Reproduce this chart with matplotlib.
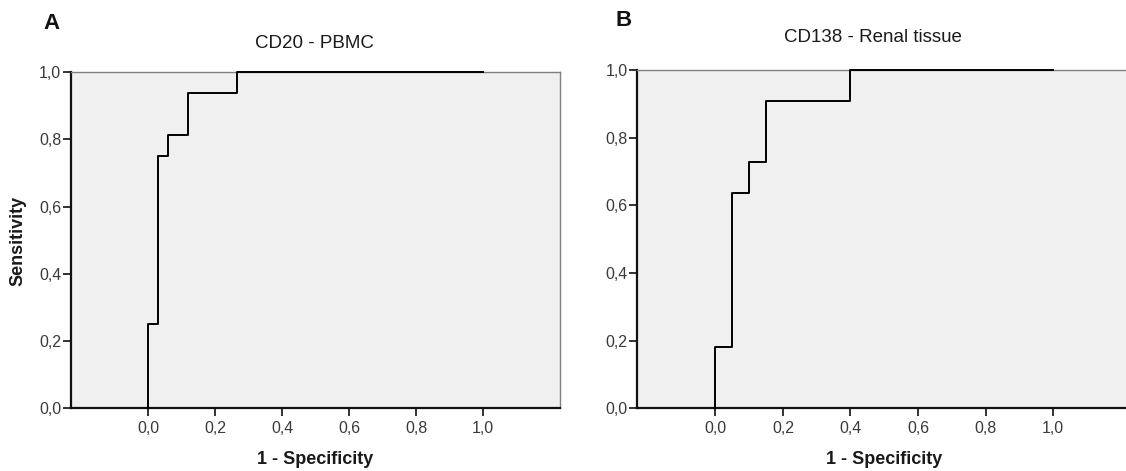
import matplotlib
matplotlib.use("Agg")
import matplotlib.pyplot as plt

plt.rcParams['font.family'] = ['Liberation Sans', 'DejaVu Sans']

# ROC step points (1 - specificity, sensitivity)
fpr_cd20 = [0.0, 0.029, 0.059, 0.118, 0.265, 1.0]
tpr_cd20 = [0.0, 0.25, 0.75, 0.8125, 0.9375, 1.0]

fpr_cd138 = [0.0, 0.05, 0.10, 0.15, 0.40, 1.0]
tpr_cd138 = [0.0, 0.182, 0.636, 0.727, 0.909, 1.0]

ticks = [0.0, 0.2, 0.4, 0.6, 0.8, 1.0]
tick_labels = ['0,0', '0,2', '0,4', '0,6', '0,8', '1,0']

W, H = 1126, 471
fig = plt.figure(figsize=(W / 100, H / 100), dpi=100)


def px_axes(left, top, right, bottom):
    return fig.add_axes([left / W, 1 - bottom / H, (right - left) / W, (bottom - top) / H])


def roc_panel(ax, fpr, tpr):
    ax.set_facecolor('#F0F0F0')
    ax.plot(fpr, tpr, drawstyle='steps-pre', color='black', lw=1.4, clip_on=False, zorder=5)
    ax.set_xlim(-0.231, 1.229)
    ax.set_ylim(0, 1)
    ax.set_xticks(ticks)
    ax.set_xticklabels(tick_labels)
    ax.set_yticks(ticks)
    ax.set_yticklabels(tick_labels)
    ax.tick_params(direction='out', length=6, width=1.3, color='#222222',
                   labelsize=11.5, labelcolor='#3a3a3a', top=False, right=False)
    ax.tick_params(axis='y', pad=1)
    ax.tick_params(axis='x', pad=3)
    for s in ['left', 'bottom']:
        ax.spines[s].set_color('#111111')
        ax.spines[s].set_linewidth(1.6)
    for s in ['top', 'right']:
        ax.spines[s].set_color('#808080')
        ax.spines[s].set_linewidth(1.0)


ax1 = px_axes(71, 72, 560, 408.3)
roc_panel(ax1, fpr_cd20, tpr_cd20)

ax2 = px_axes(637.3, 70, 1130.5, 408.3)
roc_panel(ax2, fpr_cd138, tpr_cd138)

# titles, labels
fig.text(314 / W, 1 - 44 / H, 'CD20 - PBMC', ha='center', va='center', fontsize=13.5, color='#1a1a1a')
fig.text(873 / W, 1 - 38 / H, 'CD138 - Renal tissue', ha='center', va='center', fontsize=13.5, color='#1a1a1a')
fig.text(51 / W, 1 - 23.5 / H, 'A', ha='center', va='center', fontsize=16, fontweight='bold', color='#111111')
fig.text(624 / W, 1 - 20.5 / H, 'B', ha='center', va='center', fontsize=16, fontweight='bold', color='#111111')
fig.text(315.5 / W, 1 - 459 / H, '1 - Specificity', ha='center', va='center', fontsize=13, fontweight='bold', color='#1a1a1a')
fig.text(884 / W, 1 - 459 / H, '1 - Specificity', ha='center', va='center', fontsize=13, fontweight='bold', color='#1a1a1a')
fig.text(18.3 / W, 1 - 241 / H, 'Sensitivity', ha='center', va='center', rotation=90, fontsize=13, fontweight='bold', color='#1a1a1a')

fig.savefig('out.png', dpi=100, facecolor='white')
